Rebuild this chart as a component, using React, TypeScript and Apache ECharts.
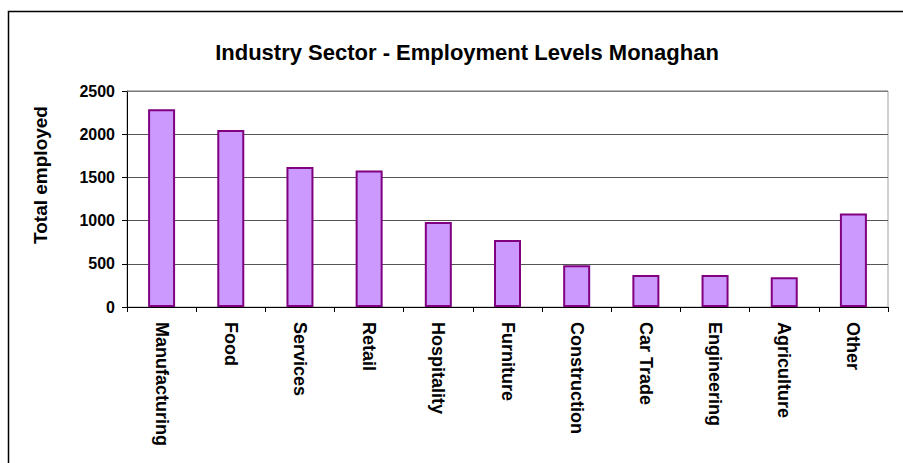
import React, { useEffect, useRef } from "react";
import * as echarts from "echarts";

const titleText = "Industry Sector - Employment Levels Monaghan";
const yAxisTitle = "Total employed";
const categories = [
  "Manufacturing",
  "Food",
  "Services",
  "Retail",
  "Hospitality",
  "Furniture",
  "Construction",
  "Car Trade",
  "Engineering",
  "Agriculture",
  "Other",
];
const employed = [2290, 2050, 1620, 1580, 985, 775, 484, 370, 371, 345, 1083];
const yMin = 0;
const yMax = 2500;
const yStep = 500;

const FONT = "'Liberation Sans', Arial, sans-serif";

export default function App() {
  const ref = useRef<HTMLDivElement>(null);
  useEffect(() => {
    if (!ref.current) return;
    const chart = echarts.init(ref.current, null, { renderer: "svg" });
    const gridLeft = 127;
    const gridTop = 91;
    const gridRight = 15;
    const gridBottom = 156;
    chart.setOption({
      animation: false,
      backgroundColor: "#ffffff",
      textStyle: { fontFamily: FONT },
      title: {
        text: titleText,
        left: 462,
        top: 36,
        textAlign: "center",
        textStyle: {
          fontFamily: FONT,
          fontSize: 22,
          fontWeight: "bold",
          color: "#000000",
        },
      },
      grid: {
        left: gridLeft,
        top: gridTop,
        right: gridRight,
        bottom: gridBottom,
        show: true,
        borderColor: "#a0a0a0",
        borderWidth: 1,
        backgroundColor: "#ffffff",
      },
      xAxis: {
        type: "category",
        data: categories,
        axisLine: { show: true, lineStyle: { color: "#000000", width: 1 } },
        axisTick: {
          show: true,
          length: 5,
          inside: false,
          lineStyle: { color: "#000000" },
        },
        axisLabel: {
          rotate: -90,
          interval: 0,
          margin: 15,
          fontFamily: FONT,
          fontSize: 18,
          fontWeight: "bold",
          color: "#000000",
        },
        splitLine: { show: false },
      },
      yAxis: {
        type: "value",
        min: yMin,
        max: yMax,
        interval: yStep,
        axisLine: { show: true, lineStyle: { color: "#000000", width: 1 } },
        axisTick: {
          show: true,
          length: 5,
          inside: false,
          lineStyle: { color: "#000000" },
        },
        axisLabel: {
          margin: 12,
          formatter: (v: number) => String(v),
          fontFamily: FONT,
          fontSize: 16,
          fontWeight: "bold",
          color: "#000000",
        },
        splitLine: { show: true, lineStyle: { color: "#555555", width: 1 } },
      },
      series: [
        {
          type: "bar",
          data: employed,
          barWidth: 27,
          itemStyle: {
            color: "#cc99ff",
            borderColor: "#800080",
            borderWidth: 2,
          },
        },
      ],
      graphic: [
        {
          type: "rect",
          shape: { x: 8.5, y: 11.5, width: 1200, height: 1200 },
          style: { fill: "none", stroke: "#000000", lineWidth: 1.5 },
          silent: true,
          z: 100,
        },
        {
          type: "line",
          shape: { x1: gridLeft, y1: gridTop, x2: 903 - gridRight, y2: gridTop },
          style: { stroke: "#a0a0a0", lineWidth: 1 },
          silent: true,
          z: 100,
        },
        {
          type: "text",
          x: 40,
          y: 175,
          rotation: Math.PI / 2,
          style: {
            text: yAxisTitle,
            font: `bold 19px ${FONT}`,
            fill: "#000000",
            align: "center",
            verticalAlign: "middle",
          },
          silent: true,
          z: 100,
        },
      ],
    });
    return () => chart.dispose();
  }, []);
  return (
    <div
      ref={ref}
      style={{ position: "fixed", left: 0, top: 0, width: 903, height: 463 }}
    />
  );
}
